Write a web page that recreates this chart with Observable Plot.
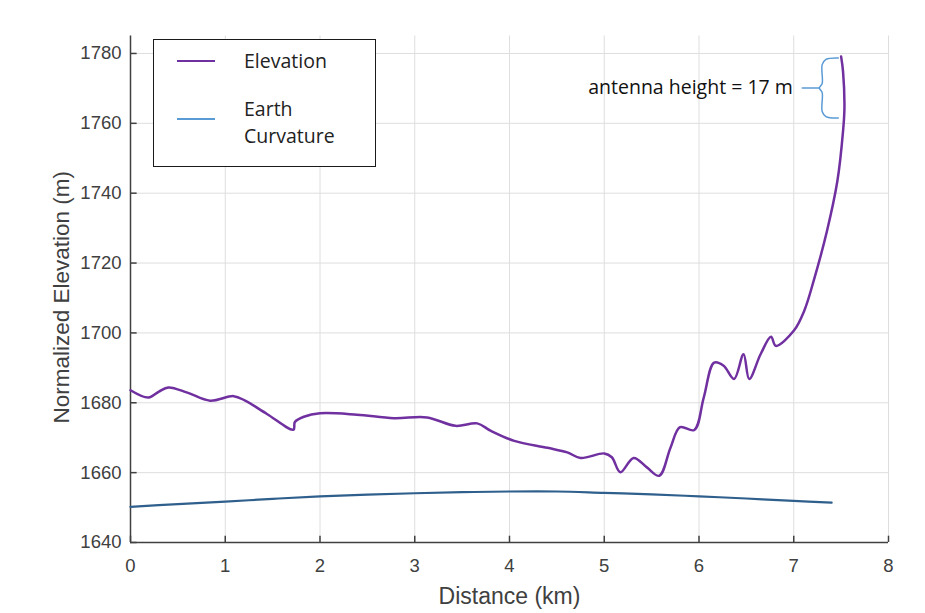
<!DOCTYPE html>
<html>
<head>
<meta charset="utf-8">
<script src="https://cdn.jsdelivr.net/npm/d3@7"></script>
<script src="https://cdn.jsdelivr.net/npm/@observablehq/plot@0.6"></script>
<style>
  html, body { margin: 0; padding: 0; background: #fff; }
  #fig { position: relative; width: 925px; height: 613px; }
  #legend {
    position: absolute; left: 153px; top: 39px; width: 223px; height: 128px;
    border: 1.5px solid #1a1a1a; background: #fff; box-sizing: border-box;
    font-family: "Open Sans", sans-serif; font-size: 19.5px; color: #222;
  }
  .sw { position: absolute; left: 23px; width: 38px; height: 0; border-top: 2.5px solid; }
  .lt { position: absolute; left: 90px; line-height: 27px; }
</style>
</head>
<body>
<div id="fig">
  <div id="legend">
    <div class="sw" style="top:20px;border-color:#7030a0"></div>
    <div class="lt" style="top:7px">Elevation</div>
    <div class="sw" style="top:78px;border-color:#5b9bd5"></div>
    <div class="lt" style="top:55px">Earth<br>Curvature</div>
  </div>
</div>
<script>
// Elevation profile (distance km, elevation m)
const elevDist = [0.00, 0.19, 0.30, 0.40, 0.60, 0.84, 1.09, 1.21, 1.44, 1.72, 1.735, 1.83, 2.00, 2.39, 2.78, 3.13, 3.43, 3.66, 3.80, 4.05, 4.40, 4.61, 4.75, 5.00, 5.08, 5.17, 5.31, 5.45, 5.58, 5.70, 5.80, 5.95, 6.05, 6.16, 6.26, 6.37, 6.47, 6.53, 6.65, 6.76, 6.81, 7.00, 7.11, 7.21, 7.35, 7.46, 7.52, 7.535, 7.52, 7.50];
const elevVal  = [1683.6, 1681.5, 1683.2, 1684.4, 1682.9, 1680.6, 1681.9, 1680.6, 1676.8, 1672.3, 1674.5, 1676.0, 1677.0, 1676.6, 1675.6, 1675.8, 1673.4, 1674.1, 1672.0, 1669.1, 1667.1, 1665.8, 1664.2, 1665.5, 1664.4, 1660.1, 1664.2, 1661.5, 1659.1, 1667.2, 1673.0, 1672.2, 1681.5, 1691.5, 1690.6, 1686.8, 1693.9, 1686.8, 1693.9, 1698.9, 1696.3, 1700.6, 1706.3, 1714.9, 1729.1, 1743.4, 1757.7, 1764.4, 1774.9, 1779.1];

// Earth curvature line
const curvDist = [0.0, 0.5, 1.0, 1.5, 2.0, 2.5, 3.0, 3.5, 4.0, 4.5, 5.0, 5.5, 6.0, 6.5, 7.0, 7.4];
const curvVal  = [1650.2, 1651.0, 1651.7, 1652.5, 1653.2, 1653.7, 1654.1, 1654.4, 1654.6, 1654.6, 1654.2, 1653.8, 1653.2, 1652.6, 1651.9, 1651.4];

// Antenna-height brace annotation
const braceDist = [7.47, 7.34, 7.30, 7.30, 7.27, 7.30, 7.30, 7.34, 7.47];
const braceVal  = [1778.7, 1778.3, 1776.8, 1771.4, 1770.1, 1768.8, 1763.4, 1761.9, 1761.5];
const braceTipDist = [7.09, 7.27];
const braceTipVal  = [1770.1, 1770.1];
const annotation = "antenna height = 17 m";
const annoDist = 6.99, annoVal = 1770.1;

const xTicks = [0, 1, 2, 3, 4, 5, 6, 7, 8];
const yTicks = [1640, 1660, 1680, 1700, 1720, 1740, 1760, 1780];

const elev = elevDist.map((d, i) => ({d, e: elevVal[i]}));
const curv = curvDist.map((d, i) => ({d, e: curvVal[i]}));
const brace = braceDist.map((d, i) => ({d, e: braceVal[i]}));
const braceTip = braceTipDist.map((d, i) => ({d, e: braceTipVal[i]}));

const axisColor = "#404040";
const chart = Plot.plot({
  width: 925,
  height: 613,
  marginLeft: 130,
  marginRight: 37,
  marginTop: 35.5,
  marginBottom: 71,
  style: {fontFamily: "'Liberation Sans', Arial, sans-serif", fontSize: "18px", color: axisColor, background: "#fff"},
  x: {domain: [0, 8], ticks: xTicks},
  y: {domain: [1640, 1785], ticks: yTicks},
  marks: [
    Plot.gridX(xTicks, {stroke: "#dedede", strokeOpacity: 1, strokeWidth: 1}),
    Plot.gridY(yTicks, {stroke: "#dedede", strokeOpacity: 1, strokeWidth: 1}),
    Plot.axisX(xTicks, {tickSize: 0, tickPadding: 16, label: null, fill: axisColor, fontSize: 18.5}),
    Plot.axisY(yTicks, {tickSize: 0, tickPadding: 9, label: null, fill: axisColor, fontSize: 18.5, tickFormat: d => String(d)}),
    // inward ticks
    Plot.ruleX(xTicks, {x: d => d, y1: 1640, y2: 1641.8, stroke: axisColor, strokeWidth: 1.5}),
    Plot.ruleY(yTicks, {y: d => d, x1: 0, x2: 0.07, stroke: axisColor, strokeWidth: 1.5}),
    Plot.ruleX([0], {stroke: axisColor, strokeWidth: 1.5}),
    Plot.ruleY([1640], {stroke: axisColor, strokeWidth: 1.5}),
    Plot.line(curv, {x: "d", y: "e", stroke: "#2f5f8c", strokeWidth: 2.2, curve: "catmull-rom"}),
    Plot.line(elev, {x: "d", y: "e", stroke: "#7030a0", strokeWidth: 2.5, curve: "catmull-rom"}),
    Plot.line(brace, {x: "d", y: "e", stroke: "#5b9bd5", strokeWidth: 1.5, curve: "catmull-rom"}),
    Plot.line(braceTip, {x: "d", y: "e", stroke: "#5b9bd5", strokeWidth: 1.5}),
    Plot.text([annotation], {x: annoDist, y: annoVal, text: d => d, textAnchor: "end", fontFamily: "'Open Sans', sans-serif", fontSize: 19.5, fill: "#111"}),
    Plot.text(["Distance (km)"], {frameAnchor: "bottom", textAnchor: "middle", dy: 61, text: d => d, fontSize: 23, fill: axisColor}),
    Plot.text(["Normalized Elevation (m)"], {frameAnchor: "left", textAnchor: "middle", dx: -69, dy: 8, rotate: -90, text: d => d, fontSize: 22.5, fill: axisColor})
  ]
});
document.getElementById("fig").prepend(chart);
</script>
</body>
</html>
